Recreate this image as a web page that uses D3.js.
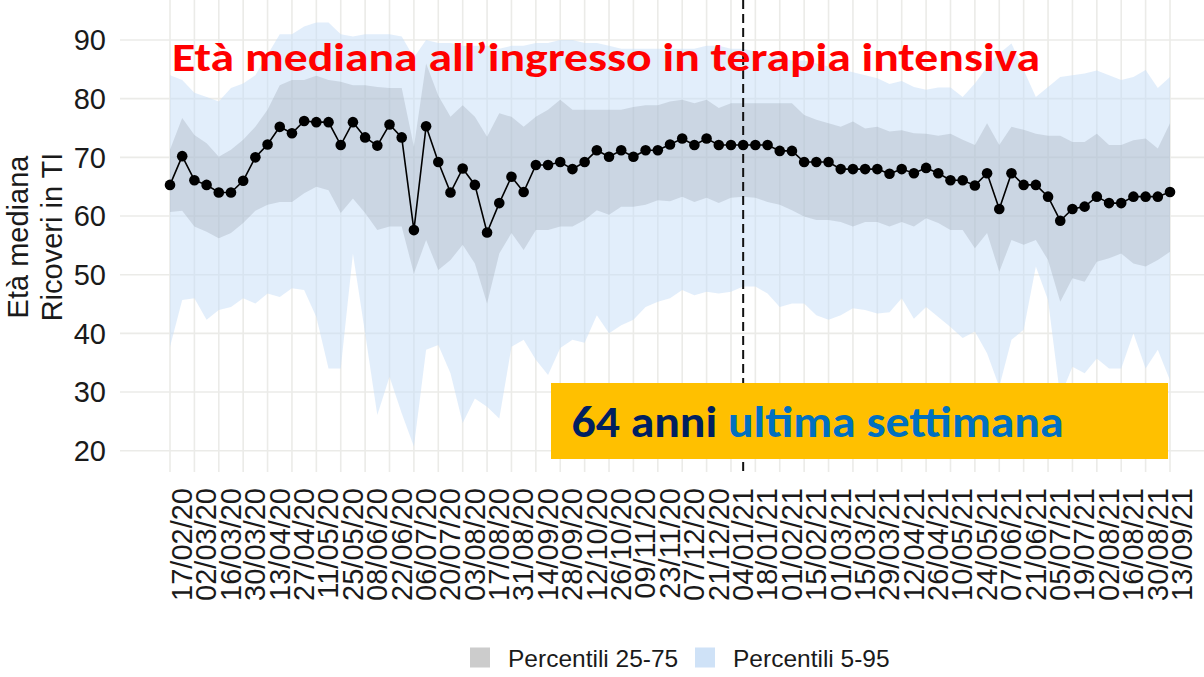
<!DOCTYPE html>
<html>
<head>
<meta charset="utf-8">
<script src="https://cdn.jsdelivr.net/npm/d3@7"></script>
<style>
  html, body { margin: 0; padding: 0; background: #fff; }
  svg { display: block; }
  text { white-space: pre; }
</style>
</head>
<body>
<svg id="chart" width="1204" height="677"></svg>
<script>
// weekly points
const weeks = [
  "2020-02-17","2020-02-24","2020-03-02","2020-03-09","2020-03-16","2020-03-23","2020-03-30","2020-04-06",
  "2020-04-13","2020-04-20","2020-04-27","2020-05-04","2020-05-11","2020-05-18","2020-05-25","2020-06-01",
  "2020-06-08","2020-06-15","2020-06-22","2020-06-29","2020-07-06","2020-07-13","2020-07-20","2020-07-27",
  "2020-08-03","2020-08-10","2020-08-17","2020-08-24","2020-08-31","2020-09-07","2020-09-14","2020-09-21",
  "2020-09-28","2020-10-05","2020-10-12","2020-10-19","2020-10-26","2020-11-02","2020-11-09","2020-11-16",
  "2020-11-23","2020-11-30","2020-12-07","2020-12-14","2020-12-21","2020-12-28","2021-01-04","2021-01-11",
  "2021-01-18","2021-01-25","2021-02-01","2021-02-08","2021-02-15","2021-02-22","2021-03-01","2021-03-08",
  "2021-03-15","2021-03-22","2021-03-29","2021-04-05","2021-04-12","2021-04-19","2021-04-26","2021-05-03",
  "2021-05-10","2021-05-17","2021-05-24","2021-05-31","2021-06-07","2021-06-14","2021-06-21","2021-06-28",
  "2021-07-05","2021-07-12","2021-07-19","2021-07-26","2021-08-02","2021-08-09","2021-08-16","2021-08-23",
  "2021-08-30","2021-09-06","2021-09-13"
];

const median = [
  65.3, 70.2, 66.1, 65.3, 64.0, 64.0, 66.0, 70.0, 72.2, 75.2,
  74.1, 76.2, 76.0, 76.0, 72.1, 76.0, 73.4, 72.0, 75.6, 73.4,
  57.6, 75.3, 69.2, 64.0, 68.1, 65.3, 57.2, 62.2, 66.7, 64.1,
  68.7, 68.7, 69.2, 68.0, 69.2, 71.2, 70.1, 71.2, 70.1, 71.2,
  71.2, 72.2, 73.2, 72.1, 73.2, 72.1, 72.1, 72.1, 72.1, 72.1,
  71.1, 71.1, 69.2, 69.2, 69.2, 68.0, 68.0, 68.0, 68.0, 67.2,
  68.0, 67.3, 68.2, 67.3, 66.1, 66.1, 65.2, 67.3, 61.2, 67.3,
  65.3, 65.3, 63.3, 59.2, 61.2, 61.6, 63.3, 62.2, 62.2, 63.3,
  63.3, 63.3, 64.1
];

const p95 = [
  84.0, 83.2, 81.0, 80.3, 79.5, 81.8, 82.6, 84.0, 87.5, 91.0,
  91.0, 92.3, 93.0, 93.0, 91.0, 90.6, 91.0, 91.0, 91.0, 90.6,
  87.0, 90.0, 89.5, 89.5, 89.0, 89.0, 89.0, 88.5, 89.0, 89.0,
  89.5, 89.5, 90.0, 90.0, 89.5, 89.5, 89.0, 88.5, 88.5, 88.5,
  88.5, 88.5, 88.5, 88.5, 89.0, 89.0, 88.5, 88.5, 88.0, 87.5,
  87.0, 86.5, 86.5, 86.0, 85.5, 85.0, 84.5, 84.0, 83.5, 82.5,
  83.0, 82.0, 81.5, 81.9, 81.9, 80.3, 82.6, 85.4, 87.7, 89.4,
  84.9, 80.3, 82.0, 83.7, 84.0, 84.3, 84.8, 84.0, 83.2, 83.7,
  84.9, 81.8, 83.7
];

const p75 = [
  71.3, 76.7, 73.8, 72.4, 70.1, 71.3, 73.0, 75.2, 78.1, 82.3,
  83.2, 83.2, 83.9, 83.2, 82.9, 82.3, 82.3, 82.0, 81.8, 81.8,
  71.8, 86.0, 80.5, 76.9, 78.9, 76.9, 73.5, 77.5, 76.9, 75.2,
  76.9, 78.1, 79.8, 78.1, 78.1, 78.1, 78.1, 78.1, 78.6, 78.9,
  78.9, 79.5, 79.8, 79.2, 79.8, 78.4, 79.2, 79.2, 79.2, 79.2,
  79.2, 79.2, 77.2, 76.4, 75.8, 75.2, 76.1, 74.9, 75.2, 74.4,
  74.6, 74.1, 74.0, 73.7, 74.0, 73.0, 72.1, 75.8, 72.1, 75.2,
  74.7, 74.0, 73.7, 73.7, 72.6, 72.6, 74.0, 72.1, 72.1, 72.9,
  73.2, 71.5, 75.8
];

const p25 = [
  60.7, 60.9, 58.2, 57.3, 56.2, 57.1, 58.8, 60.9, 61.9, 62.4,
  62.4, 63.9, 65.0, 64.4, 60.5, 63.0, 60.5, 57.6, 58.2, 58.2,
  50.2, 55.9, 50.8, 52.5, 55.1, 51.9, 45.1, 53.6, 57.1, 54.2,
  57.6, 57.6, 58.2, 58.2, 59.3, 61.0, 60.2, 61.6, 61.6, 61.9,
  62.7, 62.5, 63.3, 62.4, 63.1, 62.2, 63.1, 63.3, 63.1, 62.4,
  61.9, 61.0, 59.9, 59.3, 59.3, 59.0, 58.2, 59.0, 59.0, 58.2,
  59.0, 58.2, 59.6, 58.8, 57.6, 57.6, 54.5, 57.1, 50.5, 55.9,
  55.1, 55.9, 52.5, 45.4, 49.4, 48.8, 52.2, 52.8, 53.6, 51.9,
  51.4, 52.5, 53.9
];

const p5 = [
  37.7, 45.7, 46.0, 42.3, 44.0, 44.5, 46.0, 45.1, 46.8, 46.2,
  47.7, 47.4, 42.8, 34.0, 34.0, 53.6, 40.0, 26.1, 32.6, 26.4,
  20.7, 37.2, 38.0, 33.2, 24.7, 28.9, 27.5, 25.5, 37.7, 38.9,
  35.5, 32.9, 37.5, 38.9, 38.4, 43.1, 40.0, 41.4, 42.3, 44.5,
  45.4, 46.0, 47.4, 46.5, 47.1, 46.8, 47.1, 48.0, 48.0, 46.8,
  44.5, 45.1, 45.1, 43.1, 42.3, 43.1, 44.3, 44.0, 43.4, 43.6,
  46.0, 42.5, 44.5, 42.8, 41.1, 39.2, 40.3, 36.6, 30.9, 38.9,
  40.6, 51.4, 45.7, 29.2, 34.3, 33.2, 35.7, 34.0, 34.0, 40.0,
  34.0, 37.2, 32.0
];

const tickLabels = [
  "17/02/20","02/03/20","16/03/20","30/03/20","13/04/20","27/04/20","11/05/20","25/05/20",
  "08/06/20","22/06/20","06/07/20","20/07/20","03/08/20","17/08/20","31/08/20","14/09/20",
  "28/09/20","12/10/20","26/10/20","09/11/20","23/11/20","07/12/20","21/12/20","04/01/21",
  "18/01/21","01/02/21","15/02/21","01/03/21","15/03/21","29/03/21","12/04/21","26/04/21",
  "10/05/21","24/05/21","07/06/21","21/06/21","05/07/21","19/07/21","02/08/21","16/08/21",
  "30/08/21","13/09/21"
];
const yTicks = [20, 30, 40, 50, 60, 70, 80, 90];
const markerDate = "2021-01-11";

const titleText = "Età mediana all’ingresso in terapia intensiva";
const boxLead = "64 anni";
const boxTail = " ultima settimana";
const yTitle = ["Età mediana", "Ricoveri in TI"];
const legendLabels = ["Percentili 25-75", "Percentili 5-95"];
const legendColors = ["#cccccc", "#cfe2f7"];

const parseIso = d3.utcParse("%Y-%m-%d");
const parseTick = d3.utcParse("%d/%m/%y");

const rows = weeks.map((w, i) => ({
  date: parseIso(w), med: median[i], p5: p5[i], p25: p25[i], p75: p75[i], p95: p95[i]
}));

const svg = d3.select("#chart");
const axisFont = "'Liberation Sans', Arial, sans-serif";
const boldFont = "Carlito, Calibri, Lato, 'Open Sans', sans-serif";

const panel = { left: 120, right: 1204, top: 0, bottom: 472 };
const x = d3.scaleUtc()
  .domain([rows[0].date, rows[rows.length - 1].date])
  .range([170, 1170]);
const y = d3.scaleLinear().domain([20, 90]).range([450.7, 40]);

// grid
const grid = svg.append("g").attr("stroke", "#ebebe8").attr("stroke-width", 1.6);
grid.selectAll("line.h")
  .data(yTicks)
  .join("line")
  .attr("class", "h")
  .attr("x1", panel.left).attr("x2", panel.right)
  .attr("y1", d => y(d)).attr("y2", d => y(d));
grid.selectAll("line.v")
  .data(tickLabels)
  .join("line")
  .attr("class", "v")
  .attr("x1", d => x(parseTick(d))).attr("x2", d => x(parseTick(d)))
  .attr("y1", panel.top).attr("y2", panel.bottom);

// bands
const outerArea = d3.area().x(d => x(d.date)).y0(d => y(d.p5)).y1(d => y(d.p95));
const innerArea = d3.area().x(d => x(d.date)).y0(d => y(d.p25)).y1(d => y(d.p75));
svg.append("path").datum(rows)
  .attr("d", outerArea)
  .attr("fill", "rgb(198,222,247)")
  .attr("fill-opacity", 0.5);
svg.append("path").datum(rows)
  .attr("d", innerArea)
  .attr("fill", "rgb(150,160,172)")
  .attr("fill-opacity", 0.3);

// dashed reference line
const mx = x(parseIso(markerDate));
svg.append("line")
  .attr("x1", mx).attr("x2", mx)
  .attr("y1", panel.top).attr("y2", panel.bottom)
  .attr("stroke", "#111")
  .attr("stroke-width", 2)
  .attr("stroke-dasharray", "9,5");

// median line + points
svg.append("path").datum(rows)
  .attr("d", d3.line().x(d => x(d.date)).y(d => y(d.med)))
  .attr("fill", "none")
  .attr("stroke", "#000")
  .attr("stroke-width", 1.6);
svg.append("g").selectAll("circle")
  .data(rows)
  .join("circle")
  .attr("cx", d => x(d.date))
  .attr("cy", d => y(d.med))
  .attr("r", 5.3)
  .attr("fill", "#000");

// y axis
svg.append("g")
  .attr("font-family", axisFont)
  .attr("font-size", 29)
  .attr("fill", "#1a1a1a")
  .attr("text-anchor", "end")
  .selectAll("text")
  .data(yTicks)
  .join("text")
  .attr("x", 106)
  .attr("y", d => y(d))
  .attr("dy", "0.36em")
  .text(d => d);

const yTitleG = svg.append("g")
  .attr("font-family", axisFont)
  .attr("font-size", 29)
  .attr("fill", "#1a1a1a")
  .attr("text-anchor", "middle");
yTitleG.selectAll("text")
  .data(yTitle)
  .join("text")
  .attr("transform", (d, i) => `translate(${[28, 62][i]},237) rotate(-90)`)
  .text(d => d);

// x axis labels
svg.append("g")
  .attr("font-family", axisFont)
  .attr("font-size", 29)
  .attr("fill", "#1a1a1a")
  .attr("text-anchor", "end")
  .selectAll("text")
  .data(tickLabels)
  .join("text")
  .attr("transform", d => `translate(${x(parseTick(d)) + 22},488) rotate(-90)`)
  .text(d => d);

// title: height set by font size, width squeezed to match
svg.append("text")
  .attr("x", 172).attr("y", 71)
  .attr("font-family", boldFont)
  .attr("font-weight", 700)
  .attr("font-size", 41)
  .attr("textLength", 868)
  .attr("lengthAdjust", "spacingAndGlyphs")
  .attr("fill", "#ff0000")
  .text(titleText);

// highlight box
svg.append("rect")
  .attr("x", 551).attr("y", 383)
  .attr("width", 617).attr("height", 76)
  .attr("fill", "#ffc000");
const boxText = svg.append("text")
  .attr("x", 571.5).attr("y", 437)
  .attr("font-family", boldFont)
  .attr("font-weight", 700)
  .attr("font-size", 44)
  .attr("textLength", 492)
  .attr("lengthAdjust", "spacingAndGlyphs");
boxText.append("tspan").attr("fill", "#002060").text(boxLead);
boxText.append("tspan").attr("fill", "#0070c0").text(boxTail);

// legend
const legend = svg.append("g")
  .attr("font-family", axisFont)
  .attr("font-size", 24.5)
  .attr("fill", "#1a1a1a");
const legendX = [470, 695];
legend.selectAll("rect")
  .data(legendColors)
  .join("rect")
  .attr("x", (d, i) => legendX[i]).attr("y", 647.5)
  .attr("width", 20).attr("height", 20)
  .attr("fill", d => d);
legend.selectAll("text")
  .data(legendLabels)
  .join("text")
  .attr("x", (d, i) => legendX[i] + 38)
  .attr("y", 666.5)
  .text(d => d);
</script>
</body>
</html>
